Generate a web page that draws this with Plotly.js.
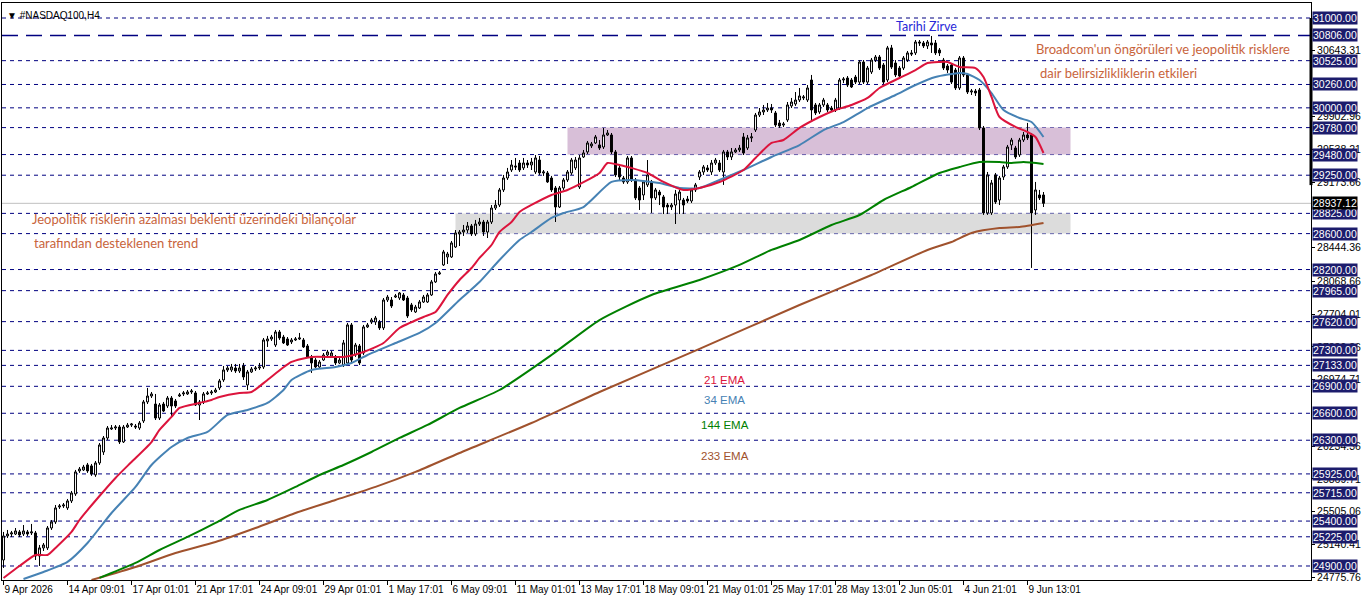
<!DOCTYPE html>
<html><head><meta charset="utf-8">
<script src="https://cdn.plot.ly/plotly-3.0.1.min.js"></script>
<style>html,body{margin:0;padding:0;background:#fff;}#chart{width:1362px;height:603px;}</style>
</head><body><div id="chart"></div>
<script>
// ---- data (H4 bars, numbered from the first visible bar) ----
const candleOpen = [
24967,25234,25256,25256,25279,25256,25279,25268,25268,25011,
25101,25101,25323,25390,25557,25568,25546,25624,25702,25958,
25969,26025,26014,25914,26047,26169,26325,26425,26436,26447,
26281,26447,26469,26458,26436,26514,26726,26792,26703,26547,
26703,26681,26770,26737,26792,26815,26815,26837,26826,26692,
26726,26815,26826,26837,26882,26971,27082,27082,27104,27071,
27126,26915,27060,27093,27104,27115,27405,27427,27360,27505,
27449,27427,27394,27416,27427,27416,27349,27227,27193,27115,
27193,27249,27238,27227,27160,27137,27160,27583,27249,27349,
27271,27561,27616,27616,27616,27550,27861,27861,27894,27883,
27917,27883,27806,27728,27772,27839,27839,27917,28062,28151,
28251,28340,28340,28451,28596,28618,28640,28685,28596,28707,
28729,28618,28729,28885,28918,29086,29219,29308,29353,29386,
29331,29386,29364,29286,29419,29275,29275,29219,29108,28896,
29108,29197,29275,29331,29119,29453,29509,29576,29609,29587,
29564,29698,29698,29509,29331,29219,29175,29442,29197,29108,
29030,29142,29175,28997,29063,29008,28918,28896,28918,28974,
28974,28985,28963,29086,29230,29286,29331,29286,29386,29386,
29286,29509,29453,29509,29531,29676,29553,29665,29753,29920,
29954,29976,29998,29943,29831,29809,29865,30021,30043,30087,
30110,30087,30310,30032,29954,30032,30032,29998,29976,29998,
30310,30332,30310,30343,30287,30510,30287,30399,30532,30566,
30477,30310,30667,30499,30443,30443,30532,30611,30611,30733,
30722,30689,30722,30722,30644,30532,30466,30477,30421,30221,
30555,30366,30176,30187,30199,29776,28830,28830,29253,28974,
29230,29342,29587,29553,29476,29642,29698,29698,28863,29030,
29030];
const candleHigh = [
25279,25301,25290,25323,25301,25356,25301,25368,25290,25134,
25156,25345,25412,25579,25590,25601,25646,25735,25969,26002,
26025,26047,26036,26069,26269,26347,26458,26469,26469,26469,
26469,26492,26492,26480,26514,26748,26882,26837,26815,26714,
26726,26792,26792,26759,26826,26848,26859,26870,26848,26748,
26837,26848,26859,26882,26982,27126,27126,27149,27149,27149,
27160,27082,27115,27126,27160,27438,27461,27472,27527,27527,
27472,27449,27438,27449,27494,27438,27371,27249,27215,27193,
27271,27305,27294,27249,27215,27416,27605,27605,27383,27371,
27583,27605,27661,27683,27639,27883,27917,27894,27928,27950,
27939,27906,27828,27806,27861,27917,27939,28084,28173,28184,
28418,28396,28518,28640,28640,28696,28729,28707,28752,28774,
28752,28752,28918,28974,29108,29253,29331,29419,29442,29419,
29442,29419,29442,29475,29464,29308,29297,29242,29130,29130,
29219,29308,29442,29453,29475,29531,29631,29620,29698,29642,
29776,29753,29720,29531,29353,29242,29464,29464,29219,29130,
29197,29419,29197,29108,29086,29030,28941,28941,29086,29086,
28997,29019,29108,29164,29308,29364,29364,29419,29442,29419,
29531,29531,29553,29553,29587,29720,29698,29720,29943,29998,
30032,30054,30043,29965,29865,29843,30065,30110,30176,30221,
30143,30254,30366,30054,30054,30110,30054,30021,30110,30332,
30343,30354,30332,30366,30532,30532,30466,30555,30588,30588,
30499,30689,30700,30532,30466,30577,30633,30644,30755,30755,
30744,30755,30800,30755,30666,30555,30488,30499,30443,30577,
30577,30388,30210,30210,30221,29798,29286,29197,29275,29242,
29364,29587,29665,29576,29665,29731,29832,29720,29175,29086,
29063];
const candleLow = [
24878,25212,25223,25245,25223,25234,25234,25245,24967,24900,
25067,25078,25301,25368,25535,25546,25524,25601,25680,25936,
25958,25936,25903,25892,26025,26136,26303,26414,26414,26258,
26269,26436,26447,26425,26414,26492,26703,26770,26525,26525,
26614,26659,26559,26659,26781,26792,26804,26815,26681,26525,
26703,26804,26804,26826,26859,26949,27060,27060,27049,27049,
26971,26859,27049,27071,27082,27093,27338,27405,27338,27416,
27371,27349,27371,27405,27416,27327,27215,27049,27104,27104,
27182,27238,27227,27137,27149,27115,27137,27171,27227,27137,
27249,27550,27594,27583,27527,27527,27839,27772,27883,27861,
27850,27661,27728,27717,27761,27828,27828,27906,28051,28140,
28240,28262,28329,28440,28462,28574,28607,28574,28574,28685,
28574,28551,28707,28863,28896,29063,29197,29286,29308,29286,
29308,29331,29308,29264,29253,29242,29164,29063,28729,28885,
29086,29175,29253,29308,29097,29442,29486,29553,29598,29531,
29542,29687,29486,29230,29197,29153,29153,29175,28974,28863,
28974,29119,28830,28974,28918,28818,28818,28863,28707,28818,
28818,28941,28941,29063,29197,29253,29286,29253,29364,29286,
29142,29419,29419,29498,29509,29475,29531,29620,29731,29898,
29920,29954,29943,29787,29776,29787,29843,29998,30021,30065,
30087,30065,29865,29920,29932,30010,29954,29954,29954,29976,
30276,30232,30221,30265,30265,30265,30265,30377,30510,30421,
30265,30287,30432,30343,30332,30421,30510,30577,30588,30689,
30666,30655,30611,30588,30577,30421,30388,30265,30199,30199,
30343,30154,30143,30132,29753,28808,28808,28808,28930,28918,
29197,29320,29531,29431,29453,29620,29642,28218,28808,28974,
28896];
const candleClose = [
25234,25256,25268,25290,25245,25290,25256,25279,25011,25101,
25134,25323,25390,25546,25568,25579,25624,25713,25947,25980,
26002,25958,25925,26047,26247,26325,26436,26436,26447,26281,
26447,26469,26480,26447,26492,26726,26792,26815,26547,26692,
26625,26770,26681,26681,26804,26826,26837,26848,26692,26726,
26815,26826,26837,26859,26960,27082,27104,27115,27071,27104,
27004,27060,27093,27104,27115,27416,27427,27449,27505,27438,
27383,27360,27416,27427,27438,27338,27227,27160,27115,27171,
27249,27282,27271,27160,27193,27383,27583,27193,27360,27160,
27561,27583,27639,27661,27550,27861,27894,27794,27906,27939,
27861,27683,27750,27783,27839,27894,27917,28062,28151,28162,
28396,28373,28496,28607,28618,28640,28685,28596,28707,28729,
28618,28729,28885,28918,29086,29219,29286,29364,29342,29308,
29386,29364,29397,29442,29275,29286,29175,29086,28896,29108,
29197,29286,29419,29419,29442,29498,29609,29598,29676,29553,
29698,29720,29509,29253,29230,29175,29442,29197,28997,28974,
29175,29253,28997,29086,29030,28896,28896,28918,29041,29063,
28918,28963,29086,29142,29286,29342,29308,29386,29419,29308,
29509,29453,29509,29531,29553,29498,29665,29676,29920,29954,
29976,29998,29976,29809,29798,29820,30032,30065,30087,30132,
30121,30221,29976,29943,30032,30087,29976,29976,30087,30310,
30321,30254,30232,30287,30510,30287,30443,30532,30566,30443,
30287,30667,30454,30366,30354,30555,30611,30599,30733,30722,
30689,30733,30700,30611,30611,30443,30421,30287,30221,30555,
30366,30176,30187,30165,29776,28830,29253,29164,28952,29219,
29342,29564,29642,29453,29642,29698,29665,28830,29086,28997,
28937.12];
const candleBars = candleClose.map((_, i) => i);

const ema21Bars = [0,4,8,11,13,17,19,24,28,32,37,39,42,44,49,52,54,59,62,66,72,77,85,90,95,99,105,108,111,114,117,119,122,124,127,129,132,137,141,149,151,154,157,161,165,170,174,179,185,188,192,195,199,204,208,212,216,219,224,228,231,234,236,239,243,245,247,249,253,256,258,260];
const ema21 = [24767,24900,25023,25023,25101,25279,25412,25679,25880,26058,26280,26414,26559,26659,26715,26748,26781,26826,26837,26971,27171,27227,27227,27282,27382,27549,27672,27727,27917,28084,28217,28329,28473,28618,28729,28841,28919,29030,29085,29275,29386,29364,29330,29275,29175,29085,29108,29175,29308,29442,29609,29642,29776,29898,29976,30032,30110,30221,30332,30421,30499,30510,30510,30455,30443,30343,30121,29898,29787,29731,29675,29497];
const ema34Bars = [5,10,16,21,27,33,37,42,46,51,56,61,66,70,72,77,83,87,91,98,104,108,114,119,124,129,132,137,140,145,152,157,164,169,174,179,185,192,199,205,210,216,223,228,233,239,241,244,247,250,254,257,260];
const ema34 = [24755,24833,24945,25156,25490,25780,26024,26225,26325,26392,26581,26637,26715,26859,26971,27082,27115,27160,27249,27382,27494,27605,27861,28061,28306,28529,28618,28774,28829,28896,29175,29197,29163,29108,29108,29197,29308,29453,29586,29753,29842,29998,30143,30254,30343,30388,30377,30310,30165,29976,29887,29842,29675];
const ema144Bars = [24,27,33,39,46,53,59,66,73,79,85,92,99,106,114,124,137,149,162,174,184,192,199,207,214,220,227,234,239,244,249,252,255,260];
const ema144 = [24767,24822,24934,25078,25223,25379,25524,25635,25780,25913,26024,26169,26325,26470,26659,26859,27249,27638,27917,28084,28251,28418,28529,28696,28807,28974,29119,29275,29341,29397,29397,29386,29397,29375];
const ema233Bars = [22,33,43,53,63,73,83,93,103,114,132,149,174,199,217,231,237,242,249,254,260];
const ema233 = [24744,24889,25045,25167,25323,25490,25635,25780,25947,26158,26492,26837,27316,27805,28139,28418,28507,28607,28662,28674,28718];

const levels = [31000,30525,30260,30000,29780,29480,29250,28825,28600,28200,27965,27620,27300,27133,26900,26600,26300,25925,25715,25400,25225,24900];
const peakLevel = 30806;
const lastPrice = 28937.12;
const priceTicks = [30643.31,29902.96,29538.21,29173.66,28444.36,28068.66,27704.01,27339.36,26974.71,26234.36,25869.71,25505.06,25140.41,24775.76];
const timeTickBars = [0,16,32,48,64,80,96,112,128,144,160,176,192,208,224,240,256];
const timeTickLabels = ["9 Apr 2026","14 Apr 09:01","17 Apr 01:01","21 Apr 17:01","24 Apr 09:01","29 Apr 01:01","1 May 17:01","6 May 09:01","11 May 01:01","13 May 17:01","18 May 09:01","21 May 01:01","25 May 17:01","28 May 13:01","2 Jun 05:01","4 Jun 21:01","9 Jun 13:01"];
const zoneRetest = [29480,29780];
const zoneSupport = [28600,28825];
const zoneStartBars = [141,113];
const zoneEndBar = 266.75;

// ---- traces ----
const emaLine = (c)=>({color:c,width:2,shape:'spline',smoothing:0.6});
const traces = [
  {type:'candlestick',x:candleBars,open:candleOpen,high:candleHigh,low:candleLow,close:candleClose,
   increasing:{line:{color:'#000',width:1},fillcolor:'#fff'},
   decreasing:{line:{color:'#000',width:1},fillcolor:'#000'},whiskerwidth:0,hoverinfo:'skip'},
  {type:'scatter',mode:'lines',x:ema233Bars,y:ema233,line:emaLine('#a0522d'),hoverinfo:'skip'},
  {type:'scatter',mode:'lines',x:ema144Bars,y:ema144,line:emaLine('#008000'),hoverinfo:'skip'},
  {type:'scatter',mode:'lines',x:ema34Bars,y:ema34,line:emaLine('#4682b4'),hoverinfo:'skip'},
  {type:'scatter',mode:'lines',x:ema21Bars,y:ema21,line:emaLine('#dc143c'),hoverinfo:'skip'}
];

const navy = '#000080';
const shapes = [];
shapes.push({type:'rect',xref:'x',yref:'y',x0:zoneStartBars[0],x1:zoneEndBar,y0:zoneRetest[0],y1:zoneRetest[1],fillcolor:'#d8bfd8',line:{width:0},layer:'below'});
shapes.push({type:'rect',xref:'x',yref:'y',x0:zoneStartBars[1],x1:zoneEndBar,y0:zoneSupport[0],y1:zoneSupport[1],fillcolor:'#dcdcdc',line:{width:0},layer:'below'});
levels.forEach(v=>shapes.push({type:'line',xref:'paper',yref:'y',x0:0,x1:1,y0:v,y1:v,line:{color:navy,width:1,dash:'4px,4px'},layer:'below'}));
shapes.push({type:'line',xref:'paper',yref:'y',x0:0,x1:1,y0:peakLevel,y1:peakLevel,line:{color:navy,width:1.5,dash:'16px,8px'},layer:'below'});
shapes.push({type:'line',xref:'paper',yref:'y',x0:0,x1:1,y0:lastPrice,y1:lastPrice,line:{color:'#c0c0c0',width:1},layer:'below'});
shapes.push({type:'line',xref:'paper',yref:'y',x0:1,x1:1,y0:31000,y1:29140,line:{color:'#000',width:3},layer:'above'});

const annotations = [];
const lblFont = {family:'Liberation Sans, Arial, sans-serif',size:10.5,color:'#fff'};
levels.concat([peakLevel]).forEach(v=>annotations.push({xref:'paper',yref:'y',x:1,y:v,xanchor:'left',yanchor:'middle',xshift:1,
  text:v.toFixed(2),showarrow:false,bgcolor:'#1c1c6c',font:lblFont,borderpad:0}));
annotations.push({xref:'paper',yref:'y',x:1,y:lastPrice,xanchor:'left',yanchor:'middle',xshift:1,text:lastPrice.toFixed(2),showarrow:false,bgcolor:'#000',font:lblFont,borderpad:0});
annotations.push({xref:'paper',yref:'paper',x:0.002,y:0.992,xanchor:'left',yanchor:'top',text:'▼ #NASDAQ100,H4',showarrow:false,font:{family:'Liberation Sans, Arial',size:10,color:'#000'}});
const noteFont = {family:'Lato, sans-serif',size:13,color:'#c8643c'};
annotations.push({xref:'x',yref:'y',x:230.7,y:30905,xanchor:'center',yanchor:'middle',text:'Tarihi Zirve',showarrow:false,font:{family:'Lato, sans-serif',size:12.5,color:'#2828d8'}});
annotations.push({xref:'x',yref:'y',x:257.7,y:30655,xanchor:'left',yanchor:'middle',text:"Broadcom'un öngörüleri ve jeopolitik risklere",showarrow:false,font:noteFont});
annotations.push({xref:'x',yref:'y',x:258.7,y:30388,xanchor:'left',yanchor:'middle',text:'dair belirsizlikliklerin etkileri',showarrow:false,font:noteFont});
annotations.push({xref:'x',yref:'y',x:6.5,y:28765,xanchor:'left',yanchor:'middle',text:'Jeopolitik risklerin azalması beklenti üzerindeki bilançolar',showarrow:false,font:noteFont});
annotations.push({xref:'x',yref:'y',x:7,y:28490,xanchor:'left',yanchor:'middle',text:'tarafından desteklenen trend',showarrow:false,font:noteFont});
const emaLab = [['21 EMA','#dc143c',26971],['34 EMA','#4682b4',26748],['144 EMA','#008000',26470],['233 EMA','#a0522d',26125]];
emaLab.forEach(e=>annotations.push({xref:'x',yref:'y',x:180.3,y:e[2],xanchor:'center',yanchor:'middle',text:e[0],showarrow:false,font:{family:'Liberation Sans, Arial',size:11.5,color:e[1]}}));

const layout = {
  width:1362,height:603,margin:{l:2,r:51,t:3,b:23},
  paper_bgcolor:'#fff',plot_bgcolor:'#fff',showlegend:false,
  boxgap:0.3,
  xaxis:{range:[-0.375,326.875],showgrid:false,zeroline:false,rangeslider:{visible:false},
    tickmode:'array',tickvals:timeTickBars,ticktext:timeTickLabels,ticks:'outside',ticklen:4,tickcolor:'#000',tickangle:0,
    ticklabelposition:'outside right',tickfont:{family:'Liberation Sans, Arial',size:10,color:'#000'},
    showline:true,linecolor:'#000',linewidth:1,mirror:true,fixedrange:true},
  yaxis:{range:[24744,31167],side:'right',showgrid:false,zeroline:false,
    tickmode:'array',tickvals:priceTicks,ticktext:priceTicks.map(v=>v.toFixed(2)),ticks:'outside',ticklen:3,tickcolor:'#000',
    tickfont:{family:'Liberation Sans, Arial',size:10.5,color:'#000'},
    showline:true,linecolor:'#000',linewidth:1,mirror:true,fixedrange:true},
  shapes:shapes,annotations:annotations
};
Plotly.newPlot('chart',traces,layout,{staticPlot:true,displayModeBar:false});
</script></body></html>
